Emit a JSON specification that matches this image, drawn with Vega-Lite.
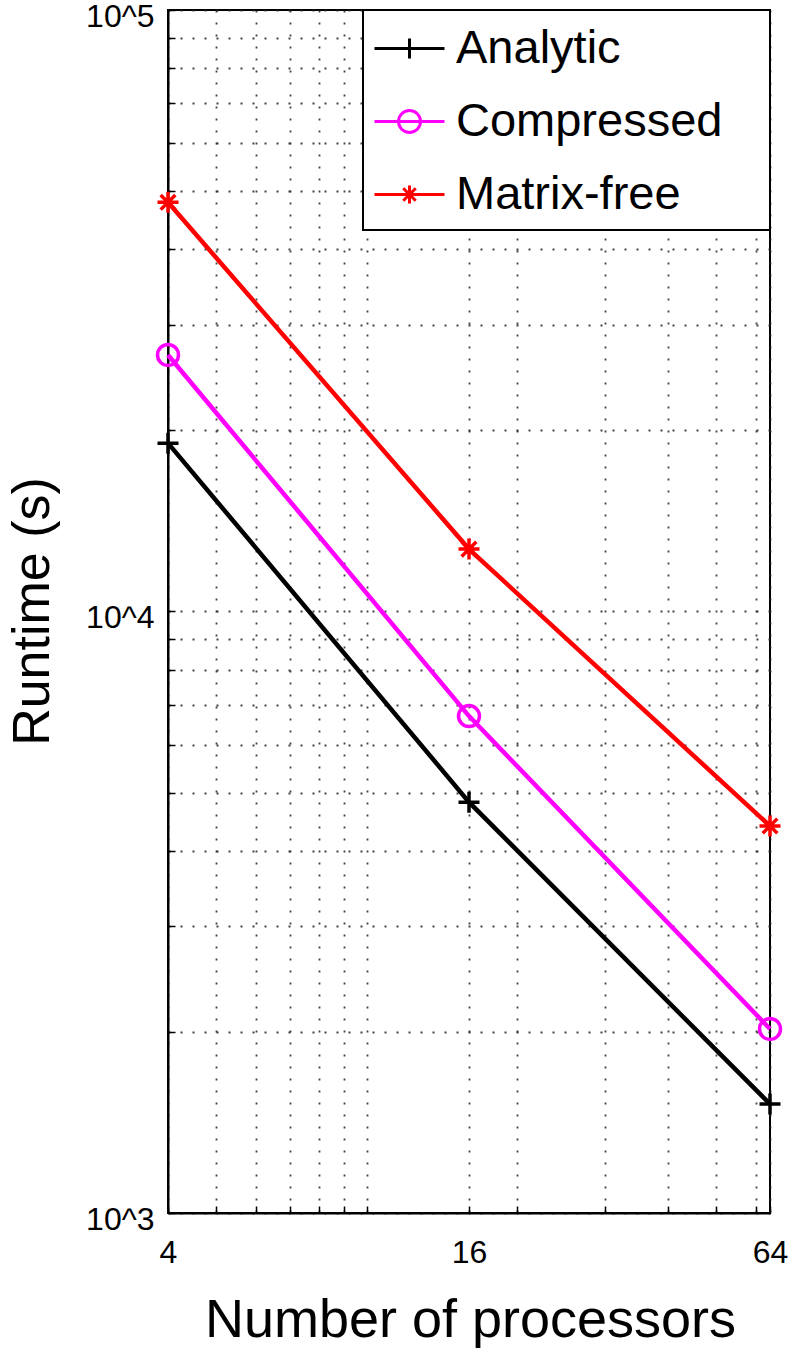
{
  "$schema": "https://vega.github.io/schema/vega-lite/v6.json",
  "width": 602,
  "height": 1203,
  "autosize": "none",
  "padding": {"left": 168, "top": 10, "right": 19, "bottom": 142},
  "background": "white",
  "config": {
    "font": "Liberation Sans",
    "view": {"stroke": "black", "strokeWidth": 2},
    "axis": {
      "domainColor": "black",
      "domainWidth": 2,
      "gridColor": "#222222",
      "gridDash": [2, 10],
      "gridWidth": 1.8,
      "gridOpacity": 0.85,
      "ticks": true,
      "tickColor": "black",
      "tickWidth": 1.5,
      "tickSize": -7,
      "labelColor": "black",
      "labelFont": "Liberation Sans",
      "labelFontSize": 32,
      "labelFlush": false,
      "labelOverlap": false,
      "labelBound": false,
      "titleColor": "black",
      "titleFont": "Liberation Sans",
      "titleFontSize": 54,
      "titleFontWeight": "normal"
    },
    "legend": {
      "orient": "top-right",
      "offset": 0,
      "title": null,
      "padding": 12,
      "fillColor": "white",
      "strokeColor": "black",
      "strokeWidth": 2,
      "labelFont": "Liberation Sans",
      "labelFontSize": 47,
      "labelColor": "black",
      "labelLimit": 0,
      "labelOffset": 28,
      "rowPadding": 23,
      "symbolSize": 2500,
      "symbolStrokeWidth": 3,
      "symbolOpacity": 1,
      "symbolFillColor": "transparent"
    }
  },
  "data": {
    "values": [
      {"series": "Analytic", "procs": 4, "runtime": 19050},
      {"series": "Analytic", "procs": 16, "runtime": 4820},
      {"series": "Analytic", "procs": 64, "runtime": 1518},
      {"series": "Compressed", "procs": 4, "runtime": 26700},
      {"series": "Compressed", "procs": 16, "runtime": 6700},
      {"series": "Compressed", "procs": 64, "runtime": 2023},
      {"series": "Matrix-free", "procs": 4, "runtime": 47900},
      {"series": "Matrix-free", "procs": 16, "runtime": 12700},
      {"series": "Matrix-free", "procs": 64, "runtime": 4400}
    ]
  },
  "encoding": {
    "x": {
      "field": "procs",
      "type": "quantitative",
      "scale": {"type": "log", "domain": [4, 64], "nice": false},
      "axis": {
        "title": "Number of processors",
        "values": [4, 5, 6, 7, 8, 9, 10, 16, 20, 30, 40, 50, 60, 64],
        "format": "d",
        "labelExpr": "indexof([4, 16, 64], datum.value) >= 0 ? datum.label : ''",
        "labelPadding": 31,
        "titleX": 302,
        "titleY": 123,
        "titleBaseline": "alphabetic",
        "titleAlign": "center"
      }
    },
    "y": {
      "field": "runtime",
      "type": "quantitative",
      "scale": {"type": "log", "domain": [1000, 100000], "nice": false},
      "axis": {
        "title": "Runtime (s)",
        "values": [1000, 2000, 3000, 4000, 5000, 6000, 7000, 8000, 9000, 10000, 20000, 30000, 40000, 50000, 60000, 70000, 80000, 90000, 100000],
        "labelExpr": "datum.value == 1000 ? '10^3' : datum.value == 10000 ? '10^4' : datum.value == 100000 ? '10^5' : ''",
        "labelPadding": 21,
        "labelOffset": 6,
        "titleFontSize": 52,
        "titleX": -120,
        "titleY": 601,
        "titleAngle": -90,
        "titleBaseline": "alphabetic",
        "titleAlign": "center"
      }
    }
  },
  "layer": [
    {
      "transform": [{"filter": "datum.series == 'Analytic'"}],
      "mark": {
        "type": "line",
        "color": "black",
        "strokeWidth": 4.5,
        "point": {"shape": "M-1,0H1M0,-1V1", "size": 441, "filled": false, "color": "black", "strokeWidth": 3.5}
      }
    },
    {
      "transform": [{"filter": "datum.series == 'Compressed'"}],
      "mark": {
        "type": "line",
        "color": "#ff00ff",
        "strokeWidth": 4.5,
        "point": {"shape": "circle", "size": 441, "filled": false, "color": "#ff00ff", "strokeWidth": 3.5}
      }
    },
    {
      "transform": [{"filter": "datum.series == 'Matrix-free'"}],
      "mark": {
        "type": "line",
        "color": "#ff0000",
        "strokeWidth": 4.5,
        "point": {"shape": "M-1,0H1M0,-1V1M-0.7,-0.7L0.7,0.7M-0.7,0.7L0.7,-0.7", "size": 441, "filled": false, "color": "#ff0000", "strokeWidth": 3.5}
      }
    },
    {
      "mark": {"type": "point", "filled": false, "opacity": 0, "size": 2500, "strokeWidth": 3},
      "encoding": {
        "color": {
          "field": "series",
          "type": "nominal",
          "scale": {"domain": ["Analytic", "Compressed", "Matrix-free"], "range": ["black", "#ff00ff", "#ff0000"]},
          "legend": {"labelExpr": "datum.label + '\u00a0\u00a0\u2009\u200b'"}
        },
        "shape": {
          "field": "series",
          "type": "nominal",
          "scale": {
            "domain": ["Analytic", "Compressed", "Matrix-free"],
            "range": [
              "M-1.08,0H1.72M0.32,-0.4V0.4",
              "M-1.08,0H1.72M-0.12,0a0.44,0.44 0 1,0 0.88,0a0.44,0.44 0 1,0 -0.88,0",
              "M-1.08,0H1.72M0.32,-0.36V0.36M0.07,-0.25L0.57,0.25M0.07,0.25L0.57,-0.25"
            ]
          },
          "legend": {"labelExpr": "datum.label + '\u00a0\u00a0\u2009\u200b'"}
        }
      }
    }
  ]
}
